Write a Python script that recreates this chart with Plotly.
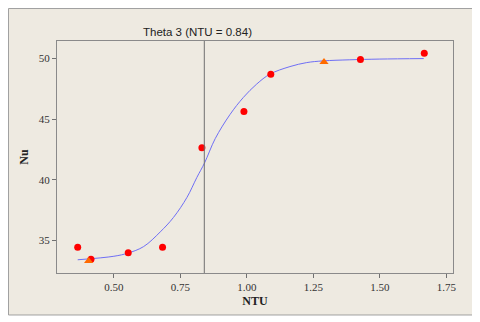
import plotly.graph_objects as go

# Observed data (red circles)
obs_ntu = [0.364, 0.414, 0.554, 0.683, 0.831, 0.989, 1.090, 1.427, 1.667]
obs_nu = [34.45, 33.46, 33.99, 34.45, 42.64, 45.63, 48.70, 49.92, 50.45]

# Orange triangles
tri_ntu = [0.405, 1.290]
tri_nu = [33.30, 49.72]

# Fitted curve
curve_ntu = [0.364, 0.50, 0.553, 0.612, 0.674, 0.724, 0.775, 0.812, 0.841, 0.881,
             0.937, 0.987, 1.037, 1.087, 1.162, 1.225, 1.287, 1.387, 1.50, 1.665]
curve_nu = [33.41, 33.70, 33.96, 34.50, 35.70, 36.90, 38.56, 40.20, 41.40, 43.40,
            45.40, 46.80, 47.90, 48.72, 49.34, 49.67, 49.81, 49.90, 49.96, 50.00]

ref_ntu = 0.84
x_ticks = [0.50, 0.75, 1.00, 1.25, 1.50, 1.75]
y_ticks = [35, 40, 45, 50]

fig = go.Figure()
fig.add_trace(go.Scatter(x=curve_ntu, y=curve_nu, mode="lines",
                         line=dict(color="#6F6FF5", width=1, shape="spline"),
                         hoverinfo="skip", showlegend=False))
fig.add_trace(go.Scatter(x=obs_ntu, y=obs_nu, mode="markers",
                         marker=dict(color="#FF0000", size=7, symbol="circle"),
                         showlegend=False))
fig.add_trace(go.Scatter(x=tri_ntu, y=tri_nu, mode="markers",
                         marker=dict(color="#FF6A00", size=8, symbol="triangle-up"),
                         showlegend=False))

# Outer beige frame
fig.add_shape(type="rect", xref="paper", yref="paper",
              x0=-0.1225, x1=1.0556, y0=-0.181, y1=1.140,
              fillcolor="#EEEAE1", line=dict(color="#A0A0A0", width=1), layer="below")
# Vertical reference line
fig.add_shape(type="line", xref="x", yref="paper", x0=ref_ntu, x1=ref_ntu, y0=0, y1=1,
              line=dict(color="#707070", width=1))

fig.add_annotation(text="Theta 3 (NTU = 0.84)", xref="paper", yref="paper",
                   x=0.355, y=1.0, yanchor="bottom", yshift=1, showarrow=False,
                   font=dict(family="Liberation Sans", size=11.5, color="#222222"))

axis_font = dict(family="Liberation Serif", size=11, color="#333333")
fig.update_layout(
    width=480, height=322,
    margin=dict(l=49, r=35, t=33, b=57, autoexpand=False),
    paper_bgcolor="white", plot_bgcolor="white",
    xaxis=dict(range=[0.2862, 1.775], tickvals=x_ticks,
               ticktext=[f"{v:.2f}" for v in x_ticks],
               ticks="outside", ticklen=4, tickcolor="#707070",
               showgrid=False, zeroline=False, showline=True, mirror=True,
               linecolor="#8A8A8A", linewidth=1, tickfont=axis_font,
               title=dict(text="<b>NTU</b>", standoff=4,
                          font=dict(family="Liberation Serif", size=12, color="#222222"))),
    yaxis=dict(range=[32.32, 51.45], tickvals=y_ticks,
               ticks="outside", ticklen=4, tickcolor="#707070",
               showgrid=False, zeroline=False, showline=True, mirror=True,
               linecolor="#8A8A8A", linewidth=1, tickfont=axis_font,
               title=dict(text="<b>Nu</b>", standoff=7,
                          font=dict(family="Liberation Serif", size=12, color="#222222"))),
)

fig.write_html("out.html")
